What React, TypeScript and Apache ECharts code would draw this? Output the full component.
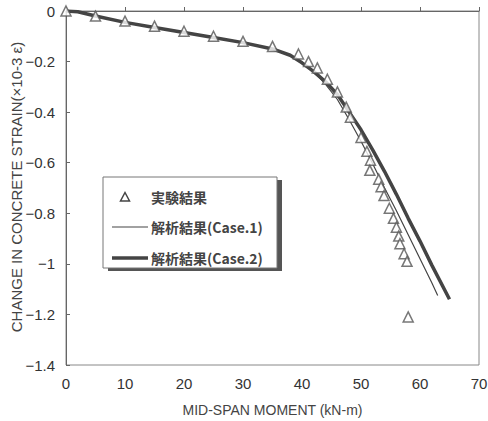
import React, { useEffect, useRef } from "react";
import * as echarts from "echarts";

const expX = [0, 5, 10, 15, 20, 25, 30, 35, 39.4, 41.1, 42.6, 44.3, 46, 47.5, 48.2, 50, 51, 51.6, 51.5, 53, 53.4, 53.9, 54.8, 55.5, 56, 56.4, 56.6, 57.3, 57.8, 58];
const expY = [0, -0.02, -0.04, -0.06, -0.08, -0.1, -0.12, -0.14, -0.17, -0.2, -0.225, -0.27, -0.32, -0.38, -0.42, -0.5, -0.555, -0.59, -0.63, -0.665, -0.695, -0.73, -0.78, -0.82, -0.855, -0.89, -0.92, -0.96, -0.99, -1.21];

const case1X = [0, 2, 5, 10, 15, 20, 25, 30, 35, 38, 40, 42, 44, 46, 48, 50, 52, 54, 56, 58, 60, 62, 63];
const case1Y = [0, -0.003, -0.02, -0.045, -0.065, -0.085, -0.105, -0.125, -0.15, -0.175, -0.205, -0.24, -0.29, -0.35, -0.43, -0.515, -0.605, -0.7, -0.79, -0.885, -0.98, -1.075, -1.125];

const case2X = [0, 2, 5, 10, 15, 20, 25, 30, 35, 38, 40, 42, 44, 46, 48, 50, 52, 54, 56, 58, 60, 62, 65];
const case2Y = [0, -0.003, -0.02, -0.045, -0.065, -0.085, -0.105, -0.125, -0.15, -0.175, -0.205, -0.24, -0.28, -0.33, -0.4, -0.47, -0.55, -0.635, -0.725, -0.82, -0.91, -1.005, -1.14];

const seriesNames = ["実験結果", "解析結果(Case.1)", "解析結果(Case.2)"];
const xAxisName = "MID-SPAN MOMENT (kN-m)";
const yAxisName = "CHANGE IN CONCRETE STRAIN(×10-3 ε)";

const zip = (xs: number[], ys: number[]) => xs.map((x, i) => [x, ys[i]]);

export default function App() {
  const ref = useRef<HTMLDivElement>(null);
  useEffect(() => {
    if (!ref.current) return;
    const chart = echarts.init(ref.current, undefined, { renderer: "svg" });
    const font = "Liberation Sans, Arial, sans-serif";
    const cjk = "Noto Sans CJK JP, sans-serif";
    const axisColor = "#666";
    const ink = "#444";
    const lgLeft = 103;
    const lgTop = 177;
    const lgW = 174;
    const lgH = 91;
    const rows = [197, 227, 258];
    const legendText = (txt: string, y: number) => ({
      type: "text",
      x: 151,
      y,
      z: 12,
      style: {
        text: txt,
        fontFamily: cjk,
        fontSize: 14,
        fontWeight: "bold",
        fill: ink,
        verticalAlign: "middle",
        align: "left",
      },
    });
    chart.setOption({
      animation: false,
      backgroundColor: "#fff",
      grid: {
        left: 66,
        right: 9,
        top: 11,
        bottom: 56,
        show: true,
        borderColor: "#888",
        borderWidth: 1,
        containLabel: false,
        outerBoundsMode: "none",
      },
      xAxis: {
        type: "value",
        min: 0,
        max: 70,
        interval: 10,
        name: xAxisName,
        nameLocation: "middle",
        nameGap: 38,
        nameMoveOverlap: false,
        nameTextStyle: { fontFamily: font, fontSize: 14, color: ink },
        axisLine: { show: true, lineStyle: { color: axisColor, width: 1 } },
        axisTick: { show: true, inside: true, length: 4, lineStyle: { color: axisColor } },
        axisLabel: { fontFamily: font, fontSize: 15, color: "#333", margin: 11 },
        splitLine: { show: false },
      },
      yAxis: {
        type: "value",
        min: -1.4,
        max: 0,
        interval: 0.2,
        axisLine: { show: true, lineStyle: { color: axisColor, width: 1 } },
        axisTick: { show: true, inside: true, length: 4, lineStyle: { color: axisColor } },
        axisLabel: {
          fontFamily: font,
          fontSize: 15,
          color: "#333",
          margin: 11,
          formatter: (v: number) => {
            if (Math.abs(v) < 1e-9) return "0";
            const s = parseFloat(Math.abs(v).toFixed(1)).toString();
            return (v < 0 ? "\u2212" : "") + s;
          },
        },
        splitLine: { show: false },
      },
      graphic: [
        {
          type: "text",
          x: 16,
          y: 187,
          rotation: Math.PI / 2,
          z: 5,
          style: {
            text: yAxisName,
            fontFamily: font,
            fontSize: 15,
            fill: ink,
            align: "center",
            verticalAlign: "middle",
          },
        },
        {
          type: "rect",
          z: 10,
          shape: { x: lgLeft + 5, y: lgTop + 3, width: lgW, height: lgH },
          style: { fill: "#555" },
        },
        {
          type: "rect",
          z: 11,
          shape: { x: lgLeft, y: lgTop, width: lgW, height: lgH },
          style: { fill: "#fff", stroke: "#777", lineWidth: 1 },
        },
        {
          type: "polygon",
          z: 12,
          shape: { points: [[125, rows[0] - 4.5], [129.5, rows[0] + 4], [120.5, rows[0] + 4]] },
          style: { fill: "#fff", stroke: ink, lineWidth: 1.5 },
        },
        legendText(seriesNames[0], rows[0]),
        {
          type: "line",
          z: 12,
          shape: { x1: 112, y1: rows[1], x2: 148, y2: rows[1] },
          style: { stroke: ink, lineWidth: 1.2 },
        },
        legendText(seriesNames[1], rows[1]),
        {
          type: "line",
          z: 12,
          shape: { x1: 112, y1: rows[2], x2: 148, y2: rows[2] },
          style: { stroke: ink, lineWidth: 3.5 },
        },
        legendText(seriesNames[2], rows[2]),
      ],
      series: [
        {
          name: seriesNames[0],
          type: "scatter",
          symbol: "triangle",
          symbolSize: 10,
          data: zip(expX, expY),
          itemStyle: { color: "#fff", borderColor: "#555", borderWidth: 1.5 },
          z: 4,
        },
        {
          name: seriesNames[1],
          type: "line",
          symbol: "none",
          data: zip(case1X, case1Y),
          lineStyle: { color: ink, width: 1.2 },
          itemStyle: { color: ink },
          z: 3,
        },
        {
          name: seriesNames[2],
          type: "line",
          symbol: "none",
          data: zip(case2X, case2Y),
          lineStyle: { color: ink, width: 3.5 },
          itemStyle: { color: ink },
          z: 3,
        },
      ],
    });
    return () => chart.dispose();
  }, []);
  return (
    <div
      ref={ref}
      style={{ position: "fixed", left: 0, top: 0, width: 488, height: 421, background: "#fff" }}
    />
  );
}
